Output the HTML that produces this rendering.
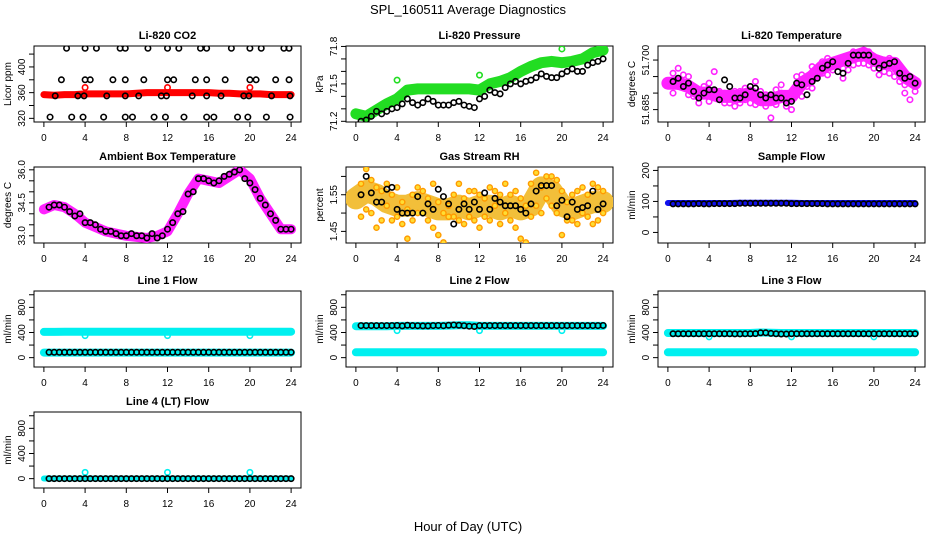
<!DOCTYPE html>
<html><head><meta charset="utf-8"><style>
html,body{margin:0;padding:0;background:#fff;}
svg{display:block;font-family:"Liberation Sans",sans-serif;}
</style></head><body>
<svg id="chart" width="936" height="540" viewBox="0 0 936 540">
<text x="468" y="14" text-anchor="middle" font-size="13">SPL_160511  Average Diagnostics</text>
<text x="468" y="531" text-anchor="middle" font-size="13">Hour of Day (UTC)</text>
</svg>
<script>
const hb=[0.5,1,1.5,2,2.5,3,3.5,4,4.5,5,5.5,6,6.5,7,7.5,8,8.5,9,9.5,10,10.5,11,11.5,12,12.5,13,13.5,14,14.5,15,15.5,16,16.5,17,17.5,18,18.5,19,19.5,20,20.5,21,21.5,22,22.5,23,23.5,24];
const hc=[0,1,2,3,4,5,6,7,8,9,10,11,12,13,14,15,16,17,18,19,20,21,22,23,24];
const xTicks=[0,4,8,12,16,20,24];

// CO2
const co2X=[2.2,4,5.1,7.4,7.9,10.1,12,13.1,15.2,15.8,18.2,20,21.1,23.3,23.8, 1.7,4,4.5,6.7,7.9,9.7,12,12.6,14.7,15.8,17.6,20,20.6,22.5,23.8, 1.1,3.3,3.9,6.1,7.9,9.2,11.4,11.9,14.4,15.8,17.2,19.4,19.9,22.1,23.9, 0.6,2.7,3.8,5.8,7.9,8.6,10.7,11.8,13.6,15.8,16.5,18.8,19.8,21.6,23.9];
const co2Y=[429,429,429,429,429,429,429,429,429,429,429,429,429,429,429, 380,380,380,380,380,380,380,380,380,380,380,380,380,380,380, 355,355,355,355,355,355,355,355,355,355,355,355,355,355,355, 322,322,322,322,322,322,322,322,322,322,322,322,322,322,322];
const co2Band=[357,356,357,357,358,358,358,358,358,359,360,360,360,360,360,360,360,359,359,358,358,358,357,357,357];
const co2OutX=[4,12,20];
const co2OutY=[368,368,368];

// Pressure
const presBlack=[71.20,71.21,71.24,71.28,71.26,71.28,71.30,71.31,71.34,71.38,71.35,71.33,71.35,71.38,71.36,71.33,71.33,71.33,71.35,71.36,71.33,71.32,71.31,71.38,71.40,71.45,71.43,71.42,71.47,71.50,71.52,71.50,71.52,71.53,71.55,71.58,71.56,71.55,71.55,71.58,71.60,71.62,71.60,71.60,71.65,71.67,71.68,71.70];
const presBand=[71.26,71.24,71.29,71.34,71.38,71.45,71.46,71.46,71.46,71.46,71.46,71.46,71.45,71.50,71.52,71.55,71.60,71.64,71.67,71.68,71.67,71.68,71.70,71.75,71.77];

// Li-820 temperature
const tempBlack=[51.6935,51.6945,51.692,51.693,51.6905,51.6885,51.690,51.691,51.691,51.688,51.694,51.692,51.6885,51.6885,51.6895,51.6920,51.6915,51.6895,51.6885,51.6895,51.6885,51.6885,51.6870,51.6875,51.6930,51.6925,51.6895,51.6935,51.6945,51.6975,51.6985,51.6995,51.6965,51.6960,51.6990,51.7015,51.7015,51.7015,51.7015,51.6995,51.6975,51.6985,51.6990,51.6995,51.6960,51.6945,51.6950,51.6930];
const tempMagA=[51.6960,51.6975,51.6930,51.6950,51.6890,51.6870,51.6920,51.6930,51.6965,51.6880,51.6900,51.6870,51.6860,51.6905,51.6880,51.6870,51.6935,51.6880,51.6860,51.6825,51.6910,51.6900,51.6860,51.6850,51.6950,51.6955,51.6920,51.6980,51.6975,51.6960,51.7005,51.6990,51.6990,51.6975,51.7005,51.7025,51.6990,51.7030,51.7025,51.6975,51.6990,51.7000,51.6960,51.6980,51.6935,51.6925,51.6880,51.6920];
const tempMagB=[51.6900,51.6920,51.6955,51.6895,51.6920,51.6910,51.6895,51.6875,51.6900,51.6905,51.6870,51.6895,51.6905,51.6870,51.6915,51.6895,51.6865,51.6905,51.6895,51.6875,51.6865,51.6925,51.6890,51.6900,51.6905,51.6890,51.6940,51.6915,51.6950,51.6995,51.6955,51.6970,51.7000,51.6945,51.6970,51.6985,51.7020,51.6990,51.6985,51.7010,51.6955,51.6965,51.7005,51.6950,51.6965,51.6900,51.6935,51.6905];
const tempBand=[51.693,51.693,51.692,51.690,51.690,51.689,51.689,51.689,51.690,51.688,51.688,51.689,51.689,51.693,51.695,51.698,51.699,51.700,51.701,51.702,51.700,51.699,51.699,51.695,51.693];

// Ambient box temperature
const ambBlack=[34.3,34.4,34.4,34.3,34.1,33.9,34.0,33.6,33.6,33.5,33.3,33.2,33.2,33.1,33.0,33.0,33.1,33.0,33.0,32.9,33.1,32.9,33.0,33.3,33.6,34.0,34.1,34.9,35.0,35.6,35.6,35.5,35.4,35.5,35.7,35.8,35.9,36.0,35.6,35.4,35.1,34.7,34.4,34.0,33.7,33.3,33.3,33.3];
const ambBand=[34.2,34.4,34.3,34.0,33.6,33.4,33.2,33.1,33.0,32.95,32.9,33.0,33.2,34.0,34.9,35.6,35.5,35.4,35.7,36.0,35.6,34.7,34.0,33.3,33.3];

// Gas stream RH
const rhBlack=[1.55,1.60,1.555,1.53,1.53,1.565,1.57,1.51,1.50,1.50,1.50,1.545,1.50,1.525,1.51,1.565,1.545,1.525,1.47,1.51,1.525,1.51,1.53,1.51,1.555,1.51,1.54,1.53,1.52,1.52,1.52,1.51,1.50,1.525,1.56,1.575,1.575,1.575,1.52,1.535,1.49,1.53,1.51,1.515,1.52,1.56,1.51,1.525];
const rhBand=[1.54,1.56,1.55,1.53,1.52,1.52,1.53,1.52,1.51,1.51,1.52,1.51,1.52,1.52,1.51,1.52,1.51,1.52,1.57,1.56,1.52,1.51,1.52,1.53,1.53];
const rhOrA=[1.58,1.62,1.50,1.57,1.48,1.58,1.55,1.49,1.47,1.43,1.55,1.57,1.50,1.54,1.58,1.44,1.42,1.52,1.49,1.58,1.47,1.49,1.56,1.46,1.49,1.57,1.52,1.47,1.58,1.55,1.46,1.43,1.42,1.49,1.61,1.57,1.60,1.60,1.59,1.44,1.48,1.55,1.47,1.57,1.49,1.58,1.48,1.56];
const rhOrB=[1.49,1.51,1.59,1.46,1.56,1.52,1.48,1.57,1.53,1.51,1.48,1.50,1.56,1.48,1.46,1.53,1.50,1.49,1.55,1.48,1.54,1.56,1.48,1.55,1.54,1.48,1.56,1.55,1.50,1.48,1.56,1.54,1.52,1.58,1.52,1.50,1.54,1.52,1.50,1.56,1.53,1.48,1.56,1.50,1.55,1.47,1.57,1.50];

// Sample flow
const sampBlack=[92,92,92,92,92,93,92,92,93,93,93,93,93,94,94,94,94,94,94,94,94,94,94,93,93,93,93,93,93,93,92,92,92,92,92,92,92,92,92,92,92,92,92,92,92,92,92,92];
const sampBand=[95,95,95,95,95,95,95,96,96,96,96,96,96,95,95,95,95,95,95,95,95,95,95,95,95];

// Line flows
const l1Black=[85,85,85,85,85,85,85,85,85,85,85,85,85,85,85,85,85,85,85,85,85,85,85,85,85,85,85,85,85,85,85,85,85,85,85,85,85,85,85,85,85,85,85,85,85,85,85,85];
const l1Hi=[410,410,412,412,412,412,412,412,412,412,412,412,412,412,412,412,412,412,412,412,412,412,412,412,412];
const l1Lo=[80,80,80,80,80,80,80,80,80,80,80,80,80,80,80,80,80,80,80,80,80,80,80,80,80];
const l1OutY=[350,350,350];
const l2Black=[510,510,510,510,510,510,510,512,505,515,510,508,505,505,510,512,508,515,520,515,508,500,495,510,510,510,510,510,510,510,510,510,510,510,510,510,510,510,510,510,510,510,510,510,510,510,510,512];
const l2Hi=[500,500,500,500,505,505,505,505,505,510,515,515,505,505,505,505,505,505,505,505,505,505,505,505,505];
const l2Lo=[85,85,85,85,85,85,85,85,85,85,85,85,85,85,85,85,85,85,85,85,85,85,85,85,85];
const l2OutY=[430,430,430];
const l3Black=[380,380,380,380,380,380,380,380,380,380,380,380,378,378,380,380,382,395,395,385,380,375,375,380,380,380,380,380,380,380,380,380,380,380,380,380,380,380,380,380,380,380,380,380,380,380,380,380];
const l3Hi=[392,392,392,392,392,392,392,392,392,400,395,392,392,392,392,392,392,392,392,392,392,392,392,392,392];
const l3Lo=[85,85,85,85,85,85,85,85,85,85,85,85,85,85,85,85,85,85,85,85,85,85,85,85,85];
const l3OutY=[330,330,330];
const l4Black=[0,0,0,0,0,0,0,0,0,0,0,0,0,0,0,0,0,0,0,0,0,0,0,0,0,0,0,0,0,0,0,0,0,0,0,0,0,0,0,0,0,0,0,0,0,0,0,0];
const l4Band=[2,2,2,2,2,2,2,2,2,2,2,2,2,2,2,2,2,2,2,2,2,2,2,2,2];
const l4OutY=[100,100,100];
const outX=[4,12,20];

const NS='http://www.w3.org/2000/svg';
const svg=document.getElementById('chart');
function mk(tag,attrs,parent){const e=document.createElementNS(NS,tag);for(const k in attrs)e.setAttribute(k,attrs[k]);(parent||svg).appendChild(e);return e;}

function panel(name,title,ylab,left,top,ymin,ymax,yTickVals,yLabVals,fmt){
  const W=267,H=76;
  const g=mk('g',{});
  
  
  const xr=[-0.96,24.96];
  const pad=(ymax-ymin)*0.04;
  const y0=ymin-pad,y1=ymax+pad;
  const sx=v=>left+(v-xr[0])/(xr[1]-xr[0])*W;
  const sy=v=>top+H-(v-y0)/(y1-y0)*H;
  const t=mk('text',{x:left+W/2,y:top-7,'text-anchor':'middle','font-size':11,'font-weight':'bold'},g);
  t.textContent=title;
  
  
  const box=mk('rect',{x:left,y:top,width:W,height:H,fill:'none',stroke:'#000','stroke-width':1},g);
  
  
  const xa=mk('g',{},g);
  
  
  mk('line',{x1:sx(0),x2:sx(24),y1:top+H,y2:top+H,stroke:'#000'},xa);
  xTicks.forEach(v=>{
    mk('line',{x1:sx(v),x2:sx(v),y1:top+H,y2:top+H+5,stroke:'#000'},xa);
    const tl=mk('text',{x:sx(v),y:top+H+19,'text-anchor':'middle','font-size':10},xa);
    tl.textContent=v;
  });
  const ya=mk('g',{},g);
  
  
  mk('line',{x1:left,x2:left,y1:sy(yTickVals[0]),y2:sy(yTickVals[yTickVals.length-1]),stroke:'#000'},ya);
  yTickVals.forEach(v=>mk('line',{x1:left-5,x2:left,y1:sy(v),y2:sy(v),stroke:'#000'},ya));
  yLabVals.forEach(v=>{
    const tl=mk('text',{x:0,y:0,'text-anchor':'middle','font-size':10,transform:`translate(${left-9},${sy(v)}) rotate(-90)`},ya);
    tl.textContent=fmt(v);
  });
  const yl=mk('text',{x:0,y:0,'text-anchor':'middle','font-size':10,transform:`translate(${left-23},${top+H/2}) rotate(-90)`},g);
  yl.textContent=ylab;
  
  
  const clip='clip-'+name;
  const cp=mk('clipPath',{id:clip},g);mk('rect',{x:left,y:top,width:W,height:H},cp);
  const d=mk('g',{'clip-path':`url(#${clip})`},g);
  return {sx,sy,d};
}
function band(p,xs,ys,color,w,name){
  const pts=xs.map((x,i)=>p.sx(x).toFixed(1)+','+p.sy(ys[i]).toFixed(1)).join(' ');
  const e=mk('polyline',{points:pts,fill:'none',stroke:color,'stroke-width':w,'stroke-linejoin':'round','stroke-linecap':'round'},p.d);
  
  
}
function pts(p,xs,ys,color,name,fill,r,sw){
  const g=mk('g',{},p.d);
  
  
  xs.forEach((x,i)=>{
    const c=mk('circle',{cx:p.sx(x),cy:p.sy(ys[i]),r:r||2.7,fill:fill||'none',stroke:color,'stroke-width':sw||1.6},g);
    
    
  });
}
const f0=v=>String(v);
const f1=v=>v.toFixed(1);
const f2=v=>v.toFixed(2);
const f3=v=>v.toFixed(3);
const COLS=[34,346,658], ROWS=[46,167,291,412];
const flowTicks=[0,200,400,600,800,1000], flowLabs=[0,400,800];

// Panel 1
let p=panel('co2','Li-820 CO2','Licor ppm',COLS[0],ROWS[0],318.7,428.2,[320,340,360,380,400,420],[320,360,400],f0);
band(p,hc,co2Band,'#ff0000',7,'co2-red-series');
pts(p,co2OutX,co2OutY,'#ff0000','co2-red-outliers');
pts(p,co2X,co2Y,'#000','co2-black-series');

// Panel 2
p=panel('pressure','Li-820 Pressure','kPa',COLS[1],ROWS[0],71.217,71.781,[71.2,71.3,71.4,71.5,71.6,71.7,71.8],[71.2,71.5,71.8],f1);
band(p,hc,presBand,'#22dd22',11,'pressure-green-series');
pts(p,[4,12,20],[71.53,71.57,71.78],'#22dd22','pressure-green-outliers');
pts(p,hb,presBlack,'#000','pressure-black-series');

// Panel 3
p=panel('li820-temperature','Li-820 Temperature','degrees C',COLS[2],ROWS[0],51.6821,51.7034,[51.685,51.690,51.695,51.700],[51.685,51.700],f3);
band(p,hc,tempBand,'#ff22ff',13,'li820-temperature-magenta-band');
pts(p,hb,tempMagA,'#ff22ff','li820-temperature-magenta-series-a');
pts(p,hb,tempMagB,'#ff22ff','li820-temperature-magenta-series-b');
pts(p,hb,tempBlack,'#000','li820-temperature-black-series');

// Panel 4
p=panel('ambient','Ambient Box Temperature','degrees C',COLS[0],ROWS[1],32.8,36.0,[33.0,33.5,34.0,34.5,35.0,35.5,36.0],[33.0,34.5,36.0],f1);
band(p,hc,ambBand,'#ff22ff',10,'ambient-magenta-series');
pts(p,hb,ambBlack,'#000','ambient-black-series');

// Panel 5
p=panel('rh','Gas Stream RH','percent',COLS[1],ROWS[1],1.426,1.618,[1.45,1.50,1.55,1.60],[1.45,1.55],f2);
band(p,hc,rhBand,'#f2bf3a',22,'rh-orange-band');
pts(p,hb,rhOrA,'#ff9a00','rh-orange-series-a','#ffdd33',2.6,1.4);
pts(p,hb,rhOrB,'#ff9a00','rh-orange-series-b','#ffdd33',2.6,1.4);
pts(p,hb,rhBlack,'#000','rh-black-series');

// Panel 6
p=panel('sample-flow','Sample Flow','ml/min',COLS[2],ROWS[1],-25,202,[0,50,100,150,200],[0,100,200],f0);
band(p,hc,sampBand,'#1010ee',6,'sample-flow-blue-series');
pts(p,hb,sampBlack,'#000','sample-flow-black-series');

// Panel 7
p=panel('line1','Line 1 Flow','ml/min',COLS[0],ROWS[2],-104,1015,flowTicks,flowLabs,f0);
band(p,hc,l1Hi,'#00f0f0',8,'line1-cyan-high-series');
band(p,hc,l1Lo,'#00f0f0',8,'line1-cyan-low-series');
pts(p,outX,l1OutY,'#00f0f0','line1-cyan-outliers');
pts(p,hb,l1Black,'#000','line1-black-series');

// Panel 8
p=panel('line2','Line 2 Flow','ml/min',COLS[1],ROWS[2],-104,1015,flowTicks,flowLabs,f0);
band(p,hc,l2Hi,'#00f0f0',8,'line2-cyan-high-series');
band(p,hc,l2Lo,'#00f0f0',8,'line2-cyan-low-series');
pts(p,outX,l2OutY,'#00f0f0','line2-cyan-outliers');
pts(p,hb,l2Black,'#000','line2-black-series');

// Panel 9
p=panel('line3','Line 3 Flow','ml/min',COLS[2],ROWS[2],-104,1015,flowTicks,flowLabs,f0);
band(p,hc,l3Hi,'#00f0f0',8,'line3-cyan-high-series');
band(p,hc,l3Lo,'#00f0f0',8,'line3-cyan-low-series');
pts(p,outX,l3OutY,'#00f0f0','line3-cyan-outliers');
pts(p,hb,l3Black,'#000','line3-black-series');

// Panel 10
p=panel('line4','Line 4 (LT) Flow','ml/min',COLS[0],ROWS[3],-104,1015,flowTicks,flowLabs,f0);
band(p,hc,l4Band,'#00f0f0',6,'line4-cyan-series');
pts(p,outX,l4OutY,'#00f0f0','line4-cyan-outliers');
pts(p,hb,l4Black,'#000','line4-black-series');
</script>
</body></html>
